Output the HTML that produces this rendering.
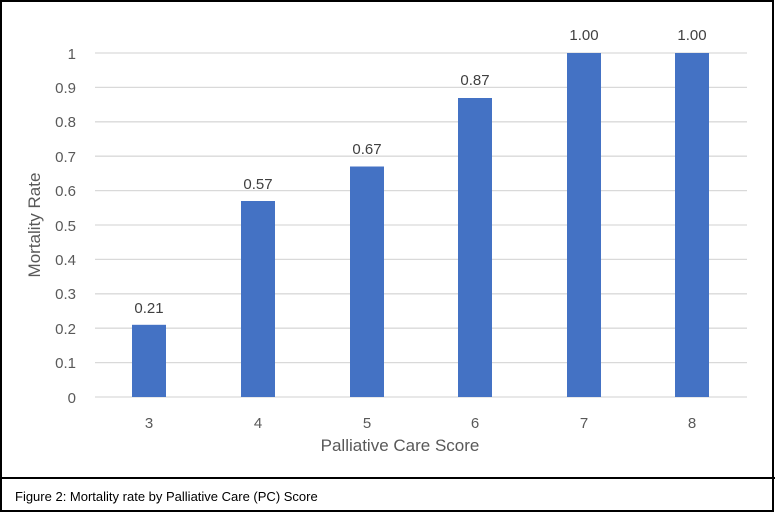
<!DOCTYPE html>
<html><head><style>
body{margin:0;background:#fff;}
svg text{font-family:"Liberation Sans",sans-serif;}
</style></head><body>
<svg width="775" height="514" xmlns="http://www.w3.org/2000/svg">
<rect x="0" y="0" width="775" height="514" fill="#fff"/>
<rect x="1" y="1" width="772" height="510" fill="none" stroke="#000" stroke-width="2"/>
<line x1="0" y1="478" x2="775" y2="478" stroke="#000" stroke-width="2"/>
<g stroke="#d9d9d9" stroke-width="1.3">
<line x1="95" x2="747" y1="397" y2="397"/>
<line x1="95" x2="747" y1="362.6" y2="362.6"/>
<line x1="95" x2="747" y1="328.2" y2="328.2"/>
<line x1="95" x2="747" y1="293.8" y2="293.8"/>
<line x1="95" x2="747" y1="259.4" y2="259.4"/>
<line x1="95" x2="747" y1="225" y2="225"/>
<line x1="95" x2="747" y1="190.6" y2="190.6"/>
<line x1="95" x2="747" y1="156.2" y2="156.2"/>
<line x1="95" x2="747" y1="121.8" y2="121.8"/>
<line x1="95" x2="747" y1="87.4" y2="87.4"/>
<line x1="95" x2="747" y1="53" y2="53"/>
</g>
<g fill="#595959" font-size="15" text-anchor="end">
<text x="76" y="403">0</text><text x="76" y="368">0.1</text><text x="76" y="334">0.2</text>
<text x="76" y="299">0.3</text><text x="76" y="265">0.4</text><text x="76" y="231">0.5</text>
<text x="76" y="196">0.6</text><text x="76" y="162">0.7</text><text x="76" y="127">0.8</text>
<text x="76" y="93">0.9</text><text x="76" y="59">1</text>
</g>
<g fill="#4472c4">
<rect x="132" y="324.8" width="34" height="72.2"/>
<rect x="241" y="201" width="34" height="196"/>
<rect x="350" y="166.5" width="34" height="230.5"/>
<rect x="458" y="98" width="34" height="299"/>
<rect x="567" y="53" width="34" height="344"/>
<rect x="675" y="53" width="34" height="344"/>
</g>
<g fill="#404040" font-size="15" text-anchor="middle">
<text x="149" y="313">0.21</text><text x="258" y="189">0.57</text><text x="367" y="154">0.67</text>
<text x="475" y="85">0.87</text><text x="584" y="40">1.00</text><text x="692" y="40">1.00</text>
</g>
<g fill="#595959" font-size="15" text-anchor="middle">
<text x="149" y="428">3</text><text x="258" y="428">4</text><text x="367" y="428">5</text>
<text x="475" y="428">6</text><text x="584" y="428">7</text><text x="692" y="428">8</text>
<text x="400" y="451" font-size="17">Palliative Care Score</text>
<text transform="translate(40,225) rotate(-90)" font-size="17">Mortality Rate</text>
</g>
<text x="15" y="501" font-size="13" fill="#000">Figure 2: Mortality rate by Palliative Care (PC) Score</text>
</svg>
</body></html>
